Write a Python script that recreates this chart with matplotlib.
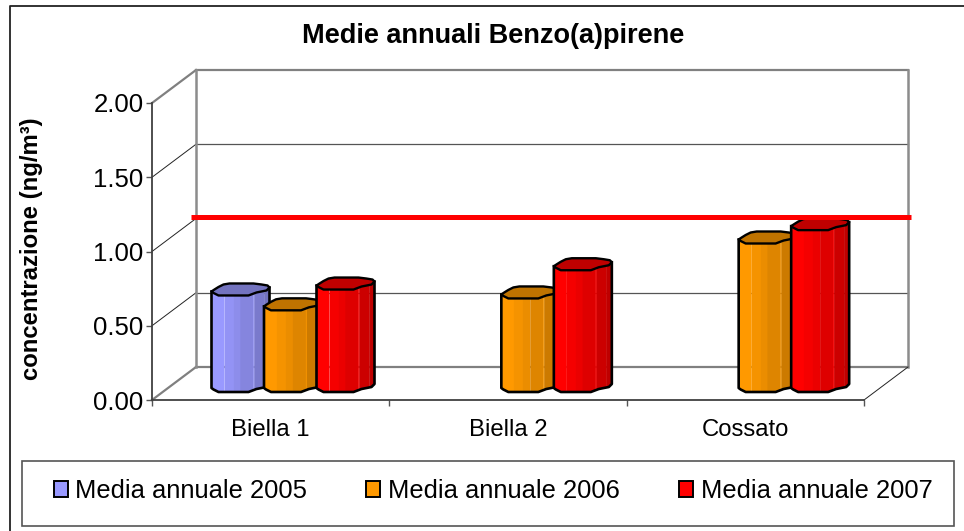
import matplotlib
matplotlib.use("Agg")
import matplotlib.pyplot as plt
import numpy as np
from matplotlib.patches import Patch, Rectangle
from matplotlib.lines import Line2D

plt.rcParams['font.family'] = ['Liberation Sans', 'DejaVu Sans']

sites = ['Biella 1', 'Biella 2', 'Cossato']
years = ['Media annuale 2005', 'Media annuale 2006', 'Media annuale 2007']
media_2005 = [0.65, np.nan, np.nan]
media_2006 = [0.55, 0.63, 1.00]
media_2007 = [0.69, 0.82, 1.09]
limit = 1.01
y_ticks = [0.0, 0.5, 1.0, 1.5, 2.0]

series = [media_2005, media_2006, media_2007]
colors = ['#9999FF', '#FF9900', '#FF0000']

W, H = 964, 531
fig = plt.figure(figsize=(W / 100, H / 100), dpi=100)

# front plane of the fake 3d box, in pixels of the reference
ax = fig.add_axes([152 / W, (H - 400) / H, 712 / W, 297 / H])
ax.set_xlim(0, 3)
ax.set_ylim(0, 2)
ax.patch.set_alpha(0)

# pixel sizes converted to data units
px_x = 3 / 712
px_y = 2 / 297
depth_x = 44 * px_x
depth_y = 33 * px_y


def back(x, y):
    return x + depth_x, y + depth_y


def wall_line(p0, p1, color, lw):
    ax.plot([p0[0], p1[0]], [p0[1], p1[1]], color=color, lw=lw,
            clip_on=False, zorder=1, solid_capstyle='projecting')


# back wall, side wall and floor
for v in y_ticks:
    edge = v in (0.0, 2.0)
    wall_line(back(0, v), back(3, v), '#808080' if edge else '#555555', 1.6 if edge else 0.9)
    wall_line((0, v), back(0, v), '#808080' if edge else '#222222', 1.6 if edge else 0.7)
wall_line(back(0, 0), back(0, 2), '#8c8c8c', 1.8)
wall_line(back(3, 0), back(3, 2), '#8c8c8c', 1.8)
wall_line((3, 0), back(3, 0), '#222222', 0.7)

# column section: front curve and back curve, pixels from the left/front corner
front_px = np.array([0, 2, 7, 37, 45, 50, 55, 58])
front_py = np.array([4, 2.5, 0, 0, 3, 4, 5, 8])
back_px = np.array([58, 56, 50, 42, 18, 12, 7, 3, 0])
back_py = np.array([8, 10, 11, 12, 12, 11, 8.5, 6, 4])
bands = [(0, 13, 1.0), (13, 22, 0.96), (22, 29, 0.92), (29, 42, 0.87),
         (42, 43, 0.97), (43, 53, 0.8), (53, 58, 0.75)]


def shade(color, k):
    return tuple(c * k for c in matplotlib.colors.to_rgb(color))


def draw_column(x0, value, color, z):
    base = 8 * px_y
    xs = x0 + front_px * px_x
    ys = front_py * px_y + base
    top = ys + value
    for a, b, k in bands:
        px = np.unique(np.r_[a, b, front_px[(front_px > a) & (front_px < b)]])
        bx = x0 + px * px_x
        by = np.interp(px, front_px, front_py) * px_y + base
        ax.fill(np.r_[bx, bx[::-1]], np.r_[by, (by + value)[::-1]],
                color=shade(color, k), lw=0.2, clip_on=False, zorder=z)
    # top face
    tx = np.r_[xs, x0 + back_px * px_x]
    ty = np.r_[top, back_py * px_y + base + value]
    ax.fill(tx, ty, facecolor=shade(color, 0.75), edgecolor='black', lw=1.7,
            clip_on=False, zorder=z + 0.1, joinstyle='round')
    # outline
    ax.plot(np.r_[xs[0], xs, xs[-1]], np.r_[top[0], ys, top[-1]],
            color='black', lw=1.9, clip_on=False, zorder=z + 0.1, solid_joinstyle='round')


for i in range(len(sites)):
    for j, values in enumerate(series):
        if np.isnan(values[i]):
            continue
        draw_column(i + (59.5 + j * 52.5) * px_x, values[i], colors[j], 3 + j)

# limit line on the back wall
lx0, ly = back(-5 * px_x, limit)
lx1, _ = back(3 + 3 * px_x, limit)
ax.plot([lx0, lx1], [ly, ly], color='#FF0000', lw=3.6, clip_on=False, zorder=8,
        solid_capstyle='butt')

# axes
for s in ['top', 'right']:
    ax.spines[s].set_visible(False)
for s in ['left', 'bottom']:
    ax.spines[s].set_color('#404040')
    ax.spines[s].set_linewidth(1.3)
    ax.spines[s].set_zorder(2)
ax.set_yticks(y_ticks)
ax.set_yticklabels(['%.2f' % v for v in y_ticks], fontsize=18.5)
ax.set_xticks([0, 1, 2, 3])
ax.set_xticklabels([])
ax.set_xticks([0.5, 1.5, 2.5], minor=True)
ax.set_xticklabels(sites, minor=True, fontsize=17.2)
ax.tick_params(axis='x', which='major', length=4, width=1, color='#555555')
ax.tick_params(axis='x', which='minor', length=0, pad=14)
ax.tick_params(axis='y', length=4, width=1, color='#555555', pad=2)

fig.text(493 / W, 1 - 36 / H, 'Medie annuali Benzo(a)pirene', fontsize=19.5,
         fontweight='bold', ha='center', va='center')
fig.text(32 / W, 1 - 249 / H, 'concentrazione (ng/m³)', fontsize=17.2, fontweight='bold',
         rotation=90, ha='center', va='center')

# outer frame, only left and top are inside the picture
fig.add_artist(Line2D([10 / W, 10 / W, 1], [0, 1 - 6 / H, 1 - 6 / H], color='#222222', lw=1.3))

# legend box
fig.add_artist(Rectangle((22 / W, 1 - 526 / H), 932 / W, 65 / H, transform=fig.transFigure,
                         facecolor='white', edgecolor='#555555', lw=1.2))
handles = [Patch(facecolor=c, edgecolor='black', lw=1.4) for c in colors]
leg = fig.legend(handles, years, ncols=3, loc='center', bbox_to_anchor=(493 / W, 1 - 491 / H),
                 frameon=False, fontsize=18.4, handlelength=0.55, handleheight=0.55,
                 handletextpad=0.31, columnspacing=2.3, borderpad=0)
leg.set_zorder(10)

fig.savefig('out.png', dpi=100)
